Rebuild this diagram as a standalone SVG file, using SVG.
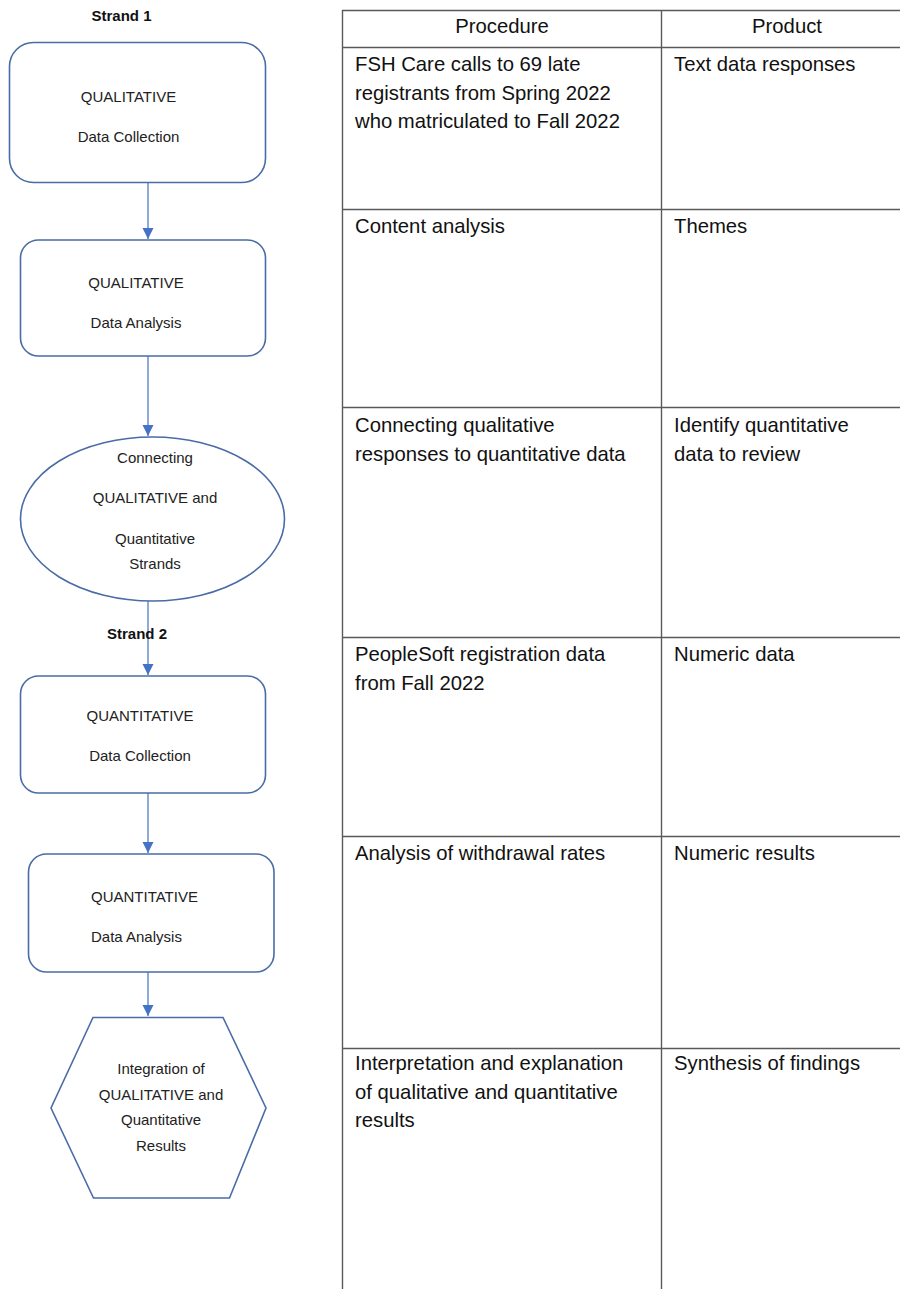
<svg xmlns="http://www.w3.org/2000/svg" width="900" height="1289" viewBox="0 0 900 1289">
  <style>
    .node { fill: #ffffff; stroke: #4a6ca6; stroke-width: 1.6; }
    .lbl { font-family: "Liberation Sans", Arial, sans-serif; font-size: 15px; fill: #222222; text-anchor: middle; }
    .lbl-left { text-anchor: start; }
    .strand { font-family: "Liberation Sans", Arial, sans-serif; font-size: 15px; font-weight: bold; fill: #111111; text-anchor: middle; }
    .link { stroke: #4472c4; stroke-width: 1.2; fill: none; marker-end: url(#arrow); }
    .grid { stroke: #5a5a5a; stroke-width: 1.4; fill: none; }
    .cell { font-family: "Liberation Sans", Arial, sans-serif; font-size: 20.3px; fill: #111111; }
    .head { text-anchor: middle; }
  </style>
  <defs>
    <marker id="arrow" markerUnits="userSpaceOnUse" markerWidth="12" markerHeight="12" viewBox="0 0 12 12" refX="11" refY="6" orient="auto">
      <path d="M0,0.5 L11,6 L0,11.5 Z" fill="#4472c4"/>
    </marker>
  </defs>

  <rect width="900" height="1289" fill="#ffffff"/>

  <!-- strand headings -->
  <text class="strand" x="121.5" y="20.5">Strand 1</text>

  <!-- connectors between the flow steps -->
  <g id="connectors">
    <line class="link" x1="148" y1="183" x2="148" y2="239"/>
    <line class="link" x1="148" y1="356" x2="148" y2="436"/>
    <line class="link" x1="148" y1="601" x2="148" y2="675"/>
    <line class="link" x1="148" y1="793" x2="148" y2="853"/>
    <line class="link" x1="148" y1="972" x2="148" y2="1016"/>
  </g>

  <text class="strand" x="137" y="638.5">Strand 2</text>

  <g id="qual-collection">
    <rect class="node" x="9.5" y="42.5" width="256" height="140" rx="24"/>
    <text class="lbl" x="128.5" y="101.5">QUALITATIVE</text>
    <text class="lbl" x="128.5" y="141.5">Data Collection</text>
  </g>

  <g id="qual-analysis">
    <rect class="node" x="20.5" y="240" width="245" height="116" rx="18"/>
    <text class="lbl" x="136" y="288">QUALITATIVE</text>
    <text class="lbl" x="136" y="328">Data Analysis</text>
  </g>

  <g id="connect-strands">
    <ellipse class="node" cx="152.5" cy="519" rx="132" ry="82"/>
    <text class="lbl" x="155" y="462.5">Connecting</text>
    <text class="lbl" x="155" y="503">QUALITATIVE and</text>
    <text class="lbl" x="155" y="544">Quantitative</text>
    <text class="lbl" x="155" y="569">Strands</text>
  </g>

  <g id="quant-collection">
    <rect class="node" x="20.5" y="676" width="245" height="117" rx="18"/>
    <text class="lbl" x="140" y="721">QUANTITATIVE</text>
    <text class="lbl" x="140" y="761">Data Collection</text>
  </g>

  <g id="quant-analysis">
    <rect class="node" x="28.5" y="854" width="245.5" height="118" rx="18"/>
    <text class="lbl lbl-left" x="91" y="901.5">QUANTITATIVE</text>
    <text class="lbl lbl-left" x="91" y="942">Data Analysis</text>
  </g>

  <g id="integration">
    <polygon class="node" points="93,1017.5 223,1017.5 266,1108 229.5,1198 93.5,1198 51,1108"/>
    <text class="lbl" x="161" y="1073.5">Integration of</text>
    <text class="lbl" x="161" y="1099.5">QUALITATIVE and</text>
    <text class="lbl" x="161" y="1125">Quantitative</text>
    <text class="lbl" x="161" y="1150.5">Results</text>
  </g>

  <!-- procedure / product table -->
  <g id="table">
    <line class="grid" x1="342" y1="10.5" x2="900" y2="10.5"/>
    <line class="grid" x1="342.5" y1="10" x2="342.5" y2="1289"/>
    <line class="grid" x1="661.5" y1="10" x2="661.5" y2="1289"/>
    <line class="grid" x1="342" y1="47.5" x2="900" y2="47.5"/>
    <line class="grid" x1="342" y1="209.5" x2="900" y2="209.5"/>
    <line class="grid" x1="342" y1="407.5" x2="900" y2="407.5"/>
    <line class="grid" x1="342" y1="637.5" x2="900" y2="637.5"/>
    <line class="grid" x1="342" y1="836.5" x2="900" y2="836.5"/>
    <line class="grid" x1="342" y1="1048.5" x2="900" y2="1048.5"/>

    <text class="cell head" x="502" y="33">Procedure</text>
    <text class="cell head" x="787" y="33">Product</text>

    <text class="cell" x="355" y="71">FSH Care calls to 69 late</text>
    <text class="cell" x="355" y="99.5">registrants from Spring 2022</text>
    <text class="cell" x="355" y="128">who matriculated to Fall 2022</text>
    <text class="cell" x="674" y="71">Text data responses</text>

    <text class="cell" x="355" y="233">Content analysis</text>
    <text class="cell" x="674" y="233">Themes</text>

    <text class="cell" x="355" y="432">Connecting qualitative</text>
    <text class="cell" x="355" y="460.5">responses to quantitative data</text>
    <text class="cell" x="674" y="432">Identify quantitative</text>
    <text class="cell" x="674" y="460.5">data to review</text>

    <text class="cell" x="355" y="661">PeopleSoft registration data</text>
    <text class="cell" x="355" y="689.5">from Fall 2022</text>
    <text class="cell" x="674" y="661">Numeric data</text>

    <text class="cell" x="355" y="860">Analysis of withdrawal rates</text>
    <text class="cell" x="674" y="860">Numeric results</text>

    <text class="cell" x="355" y="1070">Interpretation and explanation</text>
    <text class="cell" x="355" y="1098.5">of qualitative and quantitative</text>
    <text class="cell" x="355" y="1127">results</text>
    <text class="cell" x="674" y="1070">Synthesis of findings</text>
  </g>
</svg>
